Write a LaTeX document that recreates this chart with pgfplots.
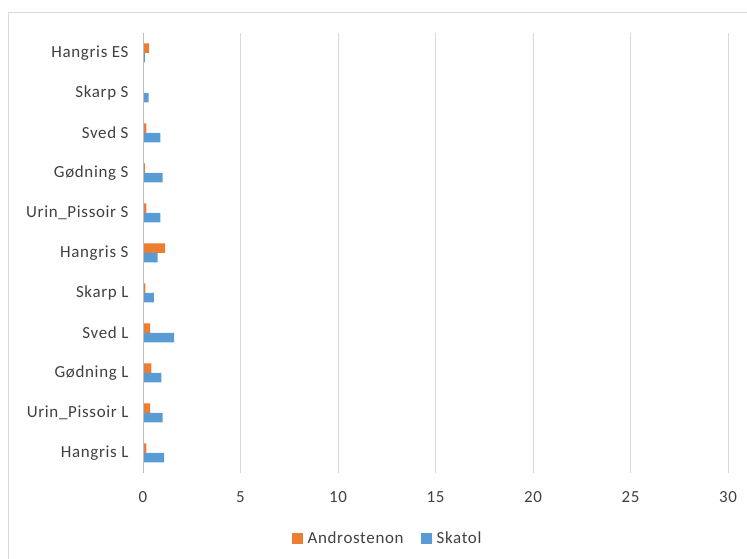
\documentclass[border=0pt]{standalone}
\usepackage{pgfplots}
\pgfplotsset{compat=1.18}
\usepackage{fontspec}
\setmainfont{Carlito}[LetterSpace=4]
\definecolor{andro}{HTML}{ED7D31}
\definecolor{skatol}{HTML}{5B9BD5}
\definecolor{gridgray}{HTML}{D9D9D9}
\definecolor{axisgray}{HTML}{BFBFBF}
\definecolor{labelgray}{HTML}{404040}
\begin{document}
\begin{tikzpicture}[x=1bp,y=1bp]
\useasboundingbox (0,0) rectangle (747,559);
% chart frame (left and top edges)
\draw[gridgray, line width=0.8bp] (8.5,-10) -- (8.5,546.5) -- (760,546.5);
\begin{axis}[
  at={(143bp,86bp)}, anchor=south west,
  scale only axis,
  width=585bp, height=440bp,
  xbar, bar width=9.5bp,
  xmin=0, xmax=30,
  ymin=-0.5, ymax=10.5,
  xtick={0,5,...,30},
  ytick={0,...,10},
  yticklabels={Hangris L,Urin\_Pissoir L,Gødning L,Sved L,Skarp L,Hangris S,Urin\_Pissoir S,Gødning S,Sved S,Skarp S,Hangris ES},
  xmajorgrids, major grid style={gridgray, line width=0.8bp},
  axis line style={draw=none},
  major tick length=0pt,
  tick label style={font=\fontsize{17}{20}\selectfont, text=labelgray},
  /pgf/number format/assume math mode=true,
  yticklabel style={xshift=-11bp},
  xticklabel style={yshift=-15bp},
  legend style={at={(0.418,-0.148)}, anchor=center, draw=none, fill=none,
    font=\fontsize{17}{20}\selectfont\color{labelgray},
    legend columns=2,
    /tikz/every even column/.append style={column sep=15bp}},
  legend cell align=left,
  legend image code/.code={\fill[#1] (0bp,-5.5bp) rectangle (11bp,5.5bp);
    \path (14bp,0bp);},
  clip=false,
]
\addplot[fill=andro, draw=none, bar shift=4.75bp] coordinates {
  (0.17,0) (0.37,1) (0.43,2) (0.37,3) (0.12,4) (1.14,5)
  (0.17,6) (0.10,7) (0.17,8) (0.05,9) (0.31,10)};
\addlegendentry{Androstenon}
\addplot[fill=skatol, draw=none, bar shift=-4.75bp] coordinates {
  (1.08,0) (1.01,1) (0.94,2) (1.59,3) (0.56,4) (0.75,5)
  (0.89,6) (1.01,7) (0.89,8) (0.29,9) (0.10,10)};
\addlegendentry{Skatol}
\draw[axisgray, line width=0.8bp] (axis cs:0,-0.5) -- (axis cs:0,10.5);
\end{axis}
\end{tikzpicture}
\end{document}
